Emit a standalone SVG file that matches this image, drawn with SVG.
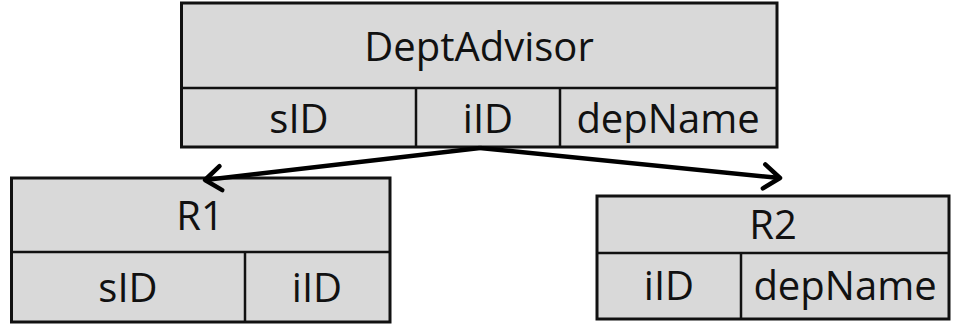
<svg xmlns="http://www.w3.org/2000/svg" width="961" height="325" viewBox="0 0 961 325">
  <style>
    .cell { fill: #d9d9d9; stroke: #111; stroke-width: 3; }
    .div { stroke: #111; stroke-width: 2.5; }
    .lbl { font-family: "Open Sans", "Liberation Sans", sans-serif; font-size: 40px; fill: #111; text-anchor: middle; }
    .edge { stroke: #000; stroke-width: 4.5; fill: none; }
  </style>
  <defs>
    <!-- open chevron head, drawn in user units so it keeps its size -->
    <marker id="chev" markerUnits="userSpaceOnUse" markerWidth="34" markerHeight="34" refX="22" refY="16" orient="auto">
      <path d="M6,4 L22,16 L6,28" fill="none" stroke="#000" stroke-width="4.5" stroke-linecap="round" stroke-linejoin="round"/>
    </marker>
  </defs>

  <g id="DeptAdvisor">
    <rect class="cell" x="181.5" y="3" width="595.5" height="144"/>
    <line class="div" x1="181.5" y1="88" x2="777" y2="88"/>
    <line class="div" x1="416" y1="88" x2="416" y2="147"/>
    <line class="div" x1="560" y1="88" x2="560" y2="147"/>
    <text class="lbl" x="479" y="61">DeptAdvisor</text>
    <text class="lbl" x="299" y="133">sID</text>
    <text class="lbl" x="488" y="133">iID</text>
    <text class="lbl" x="668" y="133">depName</text>
  </g>

  <g id="R1">
    <rect class="cell" x="11.5" y="178" width="378.5" height="144"/>
    <line class="div" x1="11.5" y1="252" x2="390" y2="252"/>
    <line class="div" x1="245" y1="252" x2="245" y2="322"/>
    <text class="lbl" x="200" y="230">R1</text>
    <text class="lbl" x="128" y="302">sID</text>
    <text class="lbl" x="317" y="302">iID</text>
  </g>

  <g id="R2">
    <rect class="cell" x="597" y="196" width="352" height="123"/>
    <line class="div" x1="597" y1="253" x2="949" y2="253"/>
    <line class="div" x1="741" y1="253" x2="741" y2="319"/>
    <text class="lbl" x="773" y="239">R2</text>
    <text class="lbl" x="669" y="300">iID</text>
    <text class="lbl" x="845" y="300">depName</text>
  </g>

  <g id="connectors">
    <line class="edge" x1="480" y1="148" x2="205" y2="180" marker-end="url(#chev)"/>
    <line class="edge" x1="480" y1="148" x2="780" y2="178" marker-end="url(#chev)"/>
  </g>
</svg>
